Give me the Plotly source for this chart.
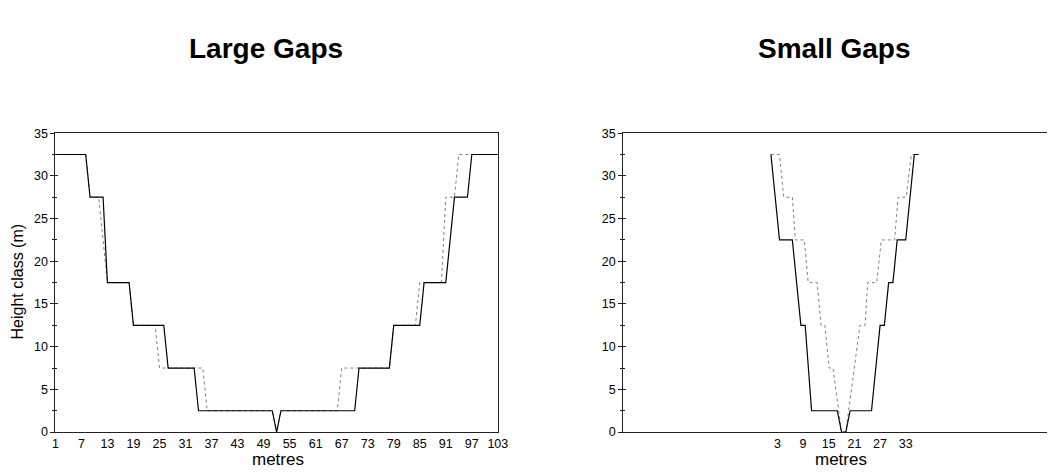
import plotly.graph_objects as go

# ---- Data (vertices of the height-class profiles) ----
large_ticks = [1, 7, 13, 19, 25, 31, 37, 43, 49, 55, 61, 67, 73, 79, 85, 91, 97, 103]
small_ticks = [3, 9, 15, 21, 27, 33]
y_ticks = [0, 5, 10, 15, 20, 25, 30, 35]

large_solid_x = [1, 8, 9, 12, 13, 18, 19, 26, 27, 33, 34, 51, 52, 53, 70, 71, 78, 79, 85, 86, 91, 93, 96, 97, 103]
large_solid_y = [32.5, 32.5, 27.5, 27.5, 17.5, 17.5, 12.5, 12.5, 7.5, 7.5, 2.5, 2.5, 0, 2.5, 2.5, 7.5, 7.5, 12.5, 12.5, 17.5, 17.5, 27.5, 27.5, 32.5, 32.5]

large_dot_x = [1, 8, 9, 11, 13, 18, 19, 24, 25, 35, 36, 51, 52, 53, 66, 67, 78, 79, 84, 85, 90, 91, 93, 94, 103]
large_dot_y = [32.5, 32.5, 27.5, 27.5, 17.5, 17.5, 12.5, 12.5, 7.5, 7.5, 2.5, 2.5, 0, 2.5, 2.5, 7.5, 7.5, 12.5, 12.5, 17.5, 17.5, 27.5, 27.5, 32.5, 32.5]

small_solid_x = [1.5, 3.5, 6.5, 8.5, 9.5, 11, 17, 18, 19, 20, 25, 27, 28, 29, 30, 31, 33, 35, 36]
small_solid_y = [32.5, 22.5, 22.5, 12.5, 12.5, 2.5, 2.5, 0, 0, 2.5, 2.5, 12.5, 12.5, 17.5, 17.5, 22.5, 22.5, 32.5, 32.5]

small_dot_x = [1.5, 3.5, 4.5, 6.5, 7.2, 9.3, 10.2, 12.3, 13.2, 14.1, 15.1, 16, 18, 19, 22.3, 23.5, 24.1, 26.2, 27.3, 30.4, 31.2, 33.1, 34.3, 35.5]
small_dot_y = [32.5, 32.5, 27.5, 27.5, 22.5, 22.5, 17.5, 17.5, 12.5, 12.5, 7.5, 7.5, 0, 0, 12.5, 12.5, 17.5, 17.5, 22.5, 22.5, 27.5, 27.5, 32.5, 32.5]

W, H = 1057, 475
FONT = "Liberation Sans, Arial, sans-serif"
AX = "#222222"

def px_x(p):
    return p / W

def px_y(p):
    return 1 - p / H

fig = go.Figure()

solid = dict(color="black", width=1.2)
dotted = dict(color="#808080", width=1.0, dash="dot")

fig.add_trace(go.Scatter(x=large_dot_x, y=large_dot_y, mode="lines", line=dotted,
                         xaxis="x", yaxis="y", hoverinfo="skip"))
fig.add_trace(go.Scatter(x=large_solid_x, y=large_solid_y, mode="lines", line=solid,
                         xaxis="x", yaxis="y", hoverinfo="skip"))
fig.add_trace(go.Scatter(x=small_dot_x, y=small_dot_y, mode="lines", line=dotted,
                         xaxis="x2", yaxis="y2", hoverinfo="skip"))
fig.add_trace(go.Scatter(x=small_solid_x, y=small_solid_y, mode="lines", line=solid,
                         xaxis="x2", yaxis="y2", hoverinfo="skip"))

ydom = [px_y(438), px_y(130)]
tickfont = dict(family=FONT, size=12.5, color="black")

yax_common = dict(range=[0, 35], tickvals=y_ticks, ticks="outside", ticklen=4,
                  tickcolor=AX, tickwidth=1, showgrid=False, zeroline=False,
                  showline=True, linecolor=AX, linewidth=1, tickfont=tickfont,
                  minor=dict(dtick=2.5, ticks="outside", ticklen=2, tickcolor=AX),
                  domain=ydom, fixedrange=True)

fig.update_layout(
    width=W, height=H,
    margin=dict(l=0, r=0, t=0, b=0),
    paper_bgcolor="white", plot_bgcolor="white",
    showlegend=False,
    xaxis=dict(domain=[px_x(53), px_x(501)], range=[1, 103], tickvals=large_ticks,
               ticks="", showgrid=False, zeroline=False, showline=True, mirror=True,
               linecolor=AX, linewidth=1, tickfont=tickfont, anchor="y", fixedrange=True),
    yaxis=dict(anchor="x", mirror=True, **yax_common),
    xaxis2=dict(domain=[px_x(628), 1.0], range=[-33, 66], tickvals=small_ticks,
                ticks="", showgrid=False, zeroline=False, showline=True, mirror=True,
                linecolor=AX, linewidth=1, tickfont=tickfont, anchor="y2", fixedrange=True),
    yaxis2=dict(anchor="x2", mirror=False, **yax_common),
    # inner halves of the crossing ticks
    yaxis3=dict(overlaying="y", anchor="x", range=[0, 35], tickvals=y_ticks, ticks="inside",
                ticklen=3, tickcolor=AX, showticklabels=False, showgrid=False, zeroline=False,
                showline=False, minor=dict(dtick=2.5, ticks="inside", ticklen=2, tickcolor=AX)),
    yaxis4=dict(overlaying="y2", anchor="x2", range=[0, 35], tickvals=y_ticks, ticks="inside",
                ticklen=3, tickcolor=AX, showticklabels=False, showgrid=False, zeroline=False,
                showline=False, minor=dict(dtick=2.5, ticks="inside", ticklen=2, tickcolor=AX)),
)

# invisible traces so overlay axes render
fig.add_trace(go.Scatter(x=[large_ticks[0]], y=[y_ticks[0]], mode="markers",
                         marker=dict(opacity=0), xaxis="x", yaxis="y3", hoverinfo="skip"))
fig.add_trace(go.Scatter(x=[small_ticks[0]], y=[y_ticks[0]], mode="markers",
                         marker=dict(opacity=0), xaxis="x2", yaxis="y4", hoverinfo="skip"))

ann_font = dict(family=FONT, size=17, color="black")
title_font = dict(family=FONT, size=28, color="black")
fig.add_annotation(text="<b>Large Gaps</b>", x=px_x(266), y=px_y(43), xref="paper", yref="paper",
                   showarrow=False, font=title_font, xanchor="center", yanchor="middle")
fig.add_annotation(text="<b>Small Gaps</b>", x=px_x(842), y=px_y(43), xref="paper", yref="paper",
                   showarrow=False, font=title_font, xanchor="center", yanchor="middle")
fig.add_annotation(text="metres", x=px_x(278), y=px_y(466), xref="paper", yref="paper",
                   showarrow=False, font=ann_font, xanchor="center", yanchor="middle")
fig.add_annotation(text="metres", x=px_x(848), y=px_y(466), xref="paper", yref="paper",
                   showarrow=False, font=ann_font, xanchor="center", yanchor="middle")
fig.add_annotation(text="Height class (m)", x=px_x(15), y=px_y(283), xref="paper", yref="paper",
                   showarrow=False, font=dict(family=FONT, size=16, color="black"),
                   textangle=-90, xanchor="center", yanchor="middle")

fig.write_html("out.html", config={"displayModeBar": False},
               post_script="document.body.style.margin='0';document.body.style.overflow='hidden';")
